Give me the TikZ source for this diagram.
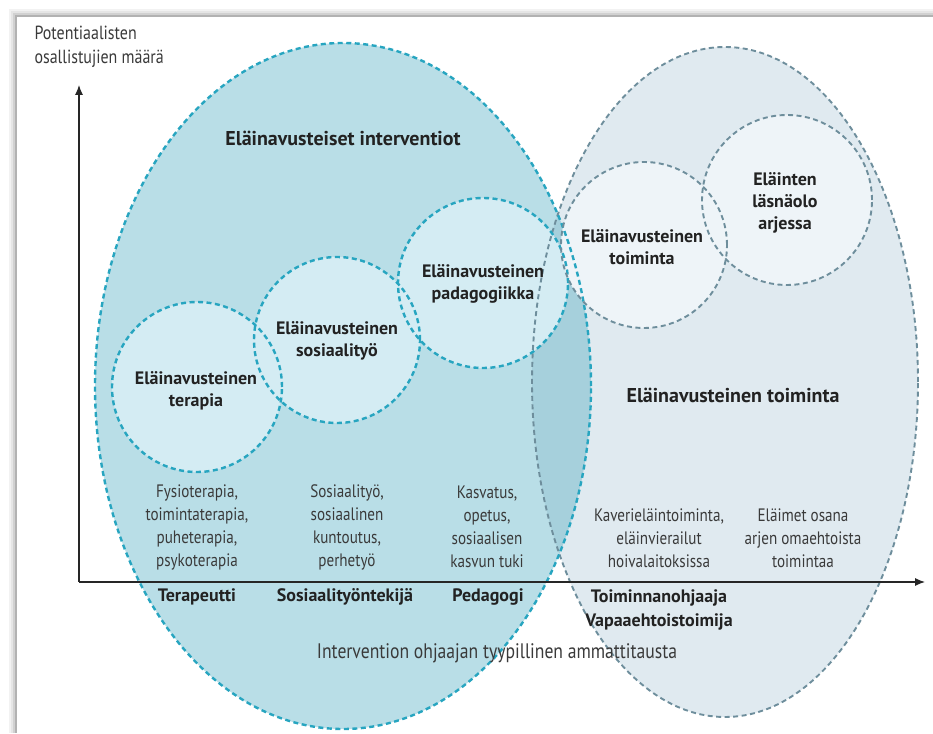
\documentclass[tikz,border=0pt]{standalone}
\usepackage{fontspec}
\setmainfont{PT Sans}[FakeStretch=0.84, BoldFeatures={FakeStretch=1.0}]
\usetikzlibrary{arrows.meta}

\definecolor{tealline}{HTML}{27A5C0}
\definecolor{tealfill}{HTML}{B9DEE7}
\definecolor{tealdisc}{HTML}{D4ECF3}
\definecolor{greyline}{HTML}{6E8E9C}
\definecolor{greyfill}{HTML}{E0EAF0}
\definecolor{greydisc}{HTML}{EEF4F8}
\definecolor{overlapfill}{HTML}{A6D0DC}
\definecolor{inktext}{HTML}{3A3A3A}
\definecolor{inkbold}{HTML}{222222}

\tikzset{
	tealdash/.style = {draw=tealline, line width=2.4pt, dash pattern=on 5pt off 3.5pt},
	greydash/.style = {draw=greyline, line width=1.9pt, dash pattern=on 5pt off 3.5pt},
	leftdisc/.style = {circle, fill=tealdisc, inner sep=0pt},
	rightdisc/.style = {circle, fill=greydisc, inner sep=0pt},
	titlelabel/.style = {font=\bfseries\fontsize{20}{24}\selectfont, text=inkbold},
	circlelabel/.style = {font=\bfseries\fontsize{18}{22}\selectfont, text=inkbold, align=center},
	fieldlabel/.style = {font=\fontsize{18}{23}\selectfont, text=inktext, align=center},
	rolelabel/.style = {font=\bfseries\fontsize{18}{24}\selectfont, text=inkbold, align=center},
	axislabel/.style = {font=\fontsize{19}{24}\selectfont, text=inktext, align=left},
	axisline/.style = {line width=1.1pt, draw=black!85, -{Latex[length=10pt, width=8pt]}}
}

\begin{document}
\begin{tikzpicture}[x=1pt, y=1pt]
	\useasboundingbox (0,0) rectangle (933,733);
	\fill [white] (0,0) rectangle (933,733);
	\foreach \d/\o in {1/0.30, 3/0.18, 5/0.10, 7/0.05}
		\draw [line width=2pt, black, opacity=\o] (17-\d,0) -- (17-\d,716+\d) -- (933,716+\d);

	\fill [greyfill] (725,351) ellipse [x radius=193, y radius=335];
	\fill [tealfill] (343,347) ellipse [x radius=248, y radius=343];
	\begin{scope}
		\clip (343,347) ellipse [x radius=248, y radius=343];
		\fill [overlapfill] (725,351) ellipse [x radius=193, y radius=335];
	\end{scope}

	\foreach \n/\px/\py/\r in {terapia/197/346/85, sosiaali/337/393/83, pedagogi/483/450/85}
		\node [leftdisc, minimum size=\r*2pt] (\n) at (\px,\py) {};
	\foreach \n/\px/\py/\r in {toiminta/644/488/83, lasnaolo/787/533/85}
		\node [rightdisc, minimum size=\r*2pt] (\n) at (\px,\py) {};

	\draw [greydash] (725,351) ellipse [x radius=193, y radius=335];
	\draw [tealdash] (343,347) ellipse [x radius=248, y radius=343];
	\foreach \n/\r in {terapia/85, sosiaali/83, pedagogi/85}
		\draw [tealdash] (\n.center) circle (\r);
	\foreach \n/\r in {toiminta/83, lasnaolo/85}
		\draw [greydash] (\n.center) circle (\r);

	\coordinate (origo) at (79,151);
	\coordinate (ytip) at (79,648);
	\coordinate (xtip) at (925,151);
	\draw [axisline] (origo) -- (ytip);
	\draw [axisline] (origo) -- (xtip);

	\node [axislabel, anchor=north west] (ylab) at (31,710) {Potentiaalisten\\osallistujien määrä};
	\node [titlelabel] (interventiot) at (343,595) {Eläinavusteiset interventiot};
	\node [titlelabel] (toimintaala) at (733,338) {Eläinavusteinen toiminta};

	\node [circlelabel] (terapiateksti) at (196,342) {Eläinavusteinen\\terapia};
	\node [circlelabel] (sosiaaliteksti) at (337,392) {Eläinavusteinen\\sosiaalityö};
	\node [circlelabel] (pedagogiteksti) at (483,449) {Eläinavusteinen\\padagogiikka};
	\node [circlelabel] (toimintateksti) at (642,486) {Eläinavusteinen\\toiminta};
	\node [circlelabel] (lasnaoloteksti) at (785,530) {Eläinten\\läsnäolo\\arjessa};

	\node [fieldlabel] (terapiamuodot) at (197,206) {Fysioterapia,\\toimintaterapia,\\puheterapia,\\psykoterapia};
	\node [fieldlabel] (sosiaalimuodot) at (347,206) {Sosiaalityö,\\sosiaalinen\\kuntoutus,\\perhetyö};
	\node [fieldlabel] (pedagogimuodot) at (487,206) {Kasvatus,\\opetus,\\sosiaalisen\\kasvun tuki};
	\node [fieldlabel] (toimintamuodot) at (659,195) {Kaverieläintoiminta,\\eläinvierailut\\hoivalaitoksissa};
	\node [fieldlabel] (arkimuodot) at (803,195) {Eläimet osana\\arjen omaehtoista\\toimintaa};

	\node [rolelabel] (terapeutti) at (197,136) {Terapeutti};
	\node [rolelabel] (sosiaalityontekija) at (345,136) {Sosiaalityöntekijä};
	\node [rolelabel] (pedagogi) at (488,136) {Pedagogi};
	\node [rolelabel] (ohjaaja) at (659,123) {Toiminnanohjaaja\\Vapaaehtoistoimija};

	\node [axislabel, font=\fontsize{21}{24}\selectfont] (xlab) at (497,80) {Intervention ohjaajan tyypillinen ammattitausta};
\end{tikzpicture}
\end{document}
